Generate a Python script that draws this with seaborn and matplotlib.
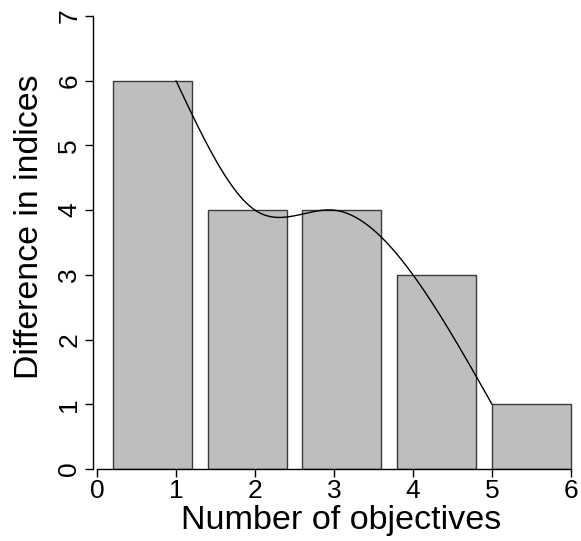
import numpy as np
import pandas as pd
import matplotlib
matplotlib.use("Agg")
import matplotlib.pyplot as plt
import seaborn as sns

# ---- data ----
objectives = [1, 2, 3, 4, 5]
differences = [6, 4, 4, 3, 1]
x_ticks = [0, 1, 2, 3, 4, 5, 6]
y_ticks = [0, 1, 2, 3, 4, 5, 6, 7]

sns.set_style("white")
plt.rcParams['font.family'] = ['Liberation Sans', 'DejaVu Sans']

W, H = 581, 541
fig = plt.figure(figsize=(W / 100, H / 100), dpi=100)

# pixel layout (R-like barplot)
x0_px, ux = 97.0, 79.0         # x=0 pixel, px per unit
y0_px, uy = 469.0, (469.0 - 16.0) / 7.0
left_px, right_px = 93.0, 581.0
top_px = 3.0
ax = fig.add_axes([left_px / W, (H - y0_px) / H,
                   (right_px - left_px) / W, (y0_px - top_px) / H])
xlim = ((left_px - x0_px) / ux, (right_px - x0_px) / ux)
ylim = (0.0, (y0_px - top_px) / uy)

# bars: R barplot layout, width 1, space 0.2
space, bw = 0.2, 1.0
centers = space + bw / 2 + (bw + space) * np.arange(len(differences))
df = pd.DataFrame({"pos": centers, "val": differences})
sns.barplot(data=df, x="pos", y="val", native_scale=True, width=bw / (bw + space),
            gap=0, color="#BEBEBE", saturation=1, edgecolor="#3a3a3a",
            linewidth=1.0, ax=ax, zorder=2)

# natural cubic spline through (objectives, differences)
xk = np.array(objectives, float)
yk = np.array(differences, float)
n = len(xk)
h = np.diff(xk)
A = np.zeros((n, n))
b = np.zeros(n)
A[0, 0] = 1
A[-1, -1] = 1
for i in range(1, n - 1):
    A[i, i - 1] = h[i - 1]
    A[i, i] = 2 * (h[i - 1] + h[i])
    A[i, i + 1] = h[i]
    b[i] = 6 * ((yk[i + 1] - yk[i]) / h[i] - (yk[i] - yk[i - 1]) / h[i - 1])
M = np.linalg.solve(A, b)
xs = np.linspace(xk[0], xk[-1], 400)
idx = np.clip(np.searchsorted(xk, xs) - 1, 0, n - 2)
t0 = xk[idx]; t1 = xk[idx + 1]; hh = t1 - t0
ys = (M[idx] * (t1 - xs) ** 3 / (6 * hh) + M[idx + 1] * (xs - t0) ** 3 / (6 * hh)
      + (yk[idx] / hh - M[idx] * hh / 6) * (t1 - xs)
      + (yk[idx + 1] / hh - M[idx + 1] * hh / 6) * (xs - t0))
sns.lineplot(x=xs, y=ys, color="black", linewidth=1.0, ax=ax, zorder=3,
             sort=False, estimator=None)

ax.set_xlim(*xlim)
ax.set_ylim(*ylim)
ax.set_xticks(x_ticks)
ax.set_yticks(y_ticks)
ax.set_xticklabels([str(v) for v in x_ticks])
ax.set_yticklabels([str(v) for v in y_ticks], rotation=90, va="center")

for s in ["top", "right"]:
    ax.spines[s].set_visible(False)
ax.spines["left"].set_bounds(y_ticks[0], y_ticks[-1])
ax.spines["bottom"].set_bounds(x_ticks[0], x_ticks[-1])
for s in ["left", "bottom"]:
    ax.spines[s].set_color("black")
    ax.spines[s].set_linewidth(1.0)

ax.tick_params(axis="both", direction="out", length=5.5, width=1.0,
               color="black", labelsize=19, labelcolor="black",
               left=True, bottom=True)
ax.tick_params(axis="x", pad=1.5)
ax.tick_params(axis="y", pad=3)

ax.set_xlabel("Number of objectives", fontsize=24.6, color="black")
ax.set_ylabel("Difference in indices", fontsize=24.4, color="black")
ax.xaxis.set_label_coords((341 - left_px) / (right_px - left_px),
                          -(521 - y0_px) / (y0_px - top_px))
ax.yaxis.set_label_coords(-(left_px - 30) / (right_px - left_px),
                          (y0_px - 227) / (y0_px - top_px))
ax.xaxis.label.set_va("center")
ax.yaxis.label.set_va("center")
ax.grid(False)

fig.savefig("out.png", dpi=100, facecolor="white")
